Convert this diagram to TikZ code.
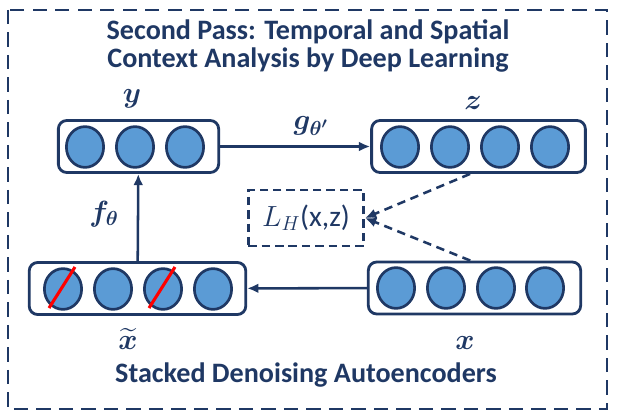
\documentclass[tikz,border=0pt]{standalone}
\usepackage{amsmath,bm}
\usepackage{fontspec}
\setsansfont{Carlito}
\usetikzlibrary{calc,arrows.meta,shapes.geometric}
\definecolor{navy}{HTML}{1F3864}
\definecolor{unitblue}{HTML}{5B9BD5}
\tikzset{
  layer/.style={draw=navy, line width=2pt, rounded corners=6pt, inner sep=0pt, minimum height=37pt},
  unit/.style={ellipse, draw=navy, fill=unitblue, line width=1.9pt, minimum width=26.5pt, minimum height=29pt, inner sep=0pt},
  flow/.style={draw=navy, line width=1.8pt, -{Latex[length=8pt,width=7pt]}},
  flowdash/.style={flow, dash pattern=on 6pt off 4pt},
  lbl/.style={text=navy, font=\fontsize{22}{26}\selectfont},
  caption/.style={text=navy, font=\sffamily\bfseries\fontsize{20}{20}\selectfont, align=center},
  cross/.style={draw=red, line width=2.2pt}
}
\begin{document}
\begin{tikzpicture}[x=0.025cm, y=-0.025cm]
  \useasboundingbox (0,0) rectangle (617,420);
  %%%%% frame and captions %%%%%
  \draw[navy, line width=2.1pt, dash pattern=on 10pt off 6pt] (8,10) rectangle (607,409);
  \node[caption] (title) at (308,46) {Second Pass: Temporal and Spatial\\Context Analysis by Deep Learning};
  \node[caption] (sda) at (306,375) {Stacked Denoising Autoencoders};

  %%%%% layers %%%%%
  \node[layer, minimum width=114pt] (ybox) at (138.5,146.5) {};
  \foreach \i/\x in {1/85,2/135,3/185}
    \node[unit] (y\i) at (\x,147) {};

  \node[layer, minimum width=152pt] (zbox) at (478.5,146.5) {};
  \foreach \i/\x in {1/400,2/450,3/500,4/550}
    \node[unit] (z\i) at (\x,147) {};

  \node[layer, minimum width=154pt] (xtbox) at (137.5,288.5) {};
  \foreach \i/\x in {1/63,2/113,3/163,4/213}
    \node[unit] (xt\i) at (\x,289) {};
  \draw[cross] ($(xt1)+(-14,19)$) -- ($(xt1)+(12,-22)$);
  \draw[cross] ($(xt3)+(-14,19)$) -- ($(xt3)+(12,-22)$);

  \node[layer, minimum width=151pt] (xbox) at (474.5,288) {};
  \foreach \i/\x in {1/396,2/446,3/496,4/545}
    \node[unit] (x\i) at (\x,288) {};

  %%%%% labels %%%%%
  \node[lbl] (ylab) at (132,99) {$\bm{y}$};
  \node[lbl] (zlab) at (473,103) {$\bm{z}$};
  \node[lbl] (xtlab) at (128,339) {$\widetilde{\bm{x}}$};
  \node[lbl] (xlab) at (465,343) {$\bm{x}$};
  \node[lbl] (glab) at (311,126) {$\bm{g_{\theta'}}$};
  \node[lbl] (flab) at (104,214) {$\bm{f_{\theta}}$};

  %%%%% loss %%%%%
  \node[draw=navy, line width=1.9pt, dash pattern=on 6pt off 3.5pt, minimum width=82pt, minimum height=40pt, text=navy,
        font=\fontsize{21}{24}\selectfont] (loss) at (306,218) {$L_H$\sffamily(x,z)};

  %%%%% connectors %%%%%
  \draw[flow] (ybox) -- (zbox);
  \draw[flow] (xbox) -- (xtbox);
  \draw[flow] (xtbox) -- (ybox);
  \draw[flowdash] ([xshift=-6pt]zbox.south) -- (loss.east);
  \draw[flowdash] ([xshift=-3pt]xbox.north) -- (loss.east);
\end{tikzpicture}
\end{document}
